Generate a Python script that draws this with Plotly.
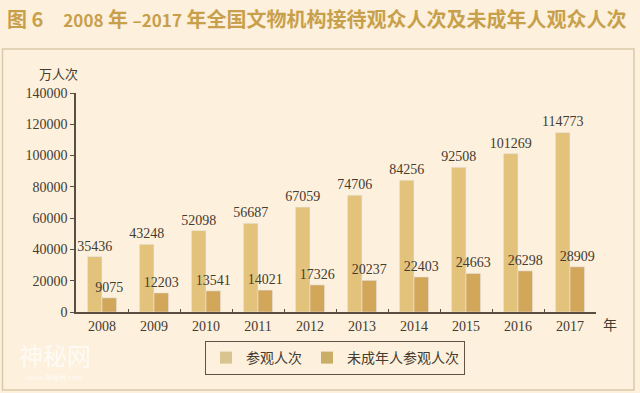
import plotly.graph_objects as go

years = ["2008", "2009", "2010", "2011", "2012", "2013", "2014", "2015", "2016", "2017"]
visitors = [35436, 43248, 52098, 56687, 67059, 74706, 84256, 92508, 101269, 114773]
minors = [9075, 12203, 13541, 14021, 17326, 20237, 22403, 24663, 26298, 28909]
y_ticks = [0, 20000, 40000, 60000, 80000, 100000, 120000, 140000]

BG = "#fdf0dc"
LIGHT = "#e3c37c"
DARK = "#d3a75a"
TXT = "#443b31"
SERIF = "Liberation Serif, DejaVu Serif, serif"
CJK = "Noto Sans CJK SC, sans-serif"

fig = go.Figure()
fig.add_trace(go.Bar(
    x=years, y=visitors, name="参观人次", marker_color=LIGHT, showlegend=False,
    text=[str(v) for v in visitors], textposition="outside", constraintext="none",
    textfont=dict(family=SERIF, size=14, color=TXT), cliponaxis=False,
))
fig.add_trace(go.Bar(
    x=years, y=minors, name="未成年人参观人次", marker_color=DARK, showlegend=False,
    text=[str(v) for v in minors], textposition="outside", constraintext="none",
    textfont=dict(family=SERIF, size=14, color=TXT), cliponaxis=False,
))
# legend entries with small square markers
fig.add_trace(go.Scatter(x=[None], y=[None], mode="markers", name="参观人次",
                         marker=dict(symbol="square", size=6, color="#d8c48e")))
fig.add_trace(go.Scatter(x=[None], y=[None], mode="markers", name="未成年人参观人次",
                         marker=dict(symbol="square", size=6, color="#c9ae68")))

# plot area: x 76..596, y 93..312
L, R, T, B = 76, 596, 93, 312
W, H = R - L, B - T

def px(x):
    return (x - L) / W

def py(y):
    return (B - y) / H

num = '<span style="font-size:17px">{}</span>'
title_text = ("<b>图 6　" + num.format("2008") + " 年 " + num.format("–2017")
              + " 年全国文物机构接待观众人次及未成年人观众人次</b>")

fig.update_layout(
    width=640, height=393,
    margin=dict(l=L, r=640 - R, t=T, b=393 - B, autoexpand=False),
    paper_bgcolor=BG, plot_bgcolor=BG,
    barmode="group", bargap=0.44, bargroupgap=0,
    showlegend=True,
    legend=dict(
        orientation="h", x=px(335), xanchor="center", y=py(358), yanchor="middle",
        bordercolor="#5e5444", borderwidth=1, bgcolor=BG,
        font=dict(family=CJK, size=14, color=TXT),
        itemwidth=30, traceorder="normal", itemsizing="constant",
    ),
    title=dict(
        text=title_text,
        x=7 / 640, xanchor="left", y=1 - 20 / 393, yanchor="middle",
        font=dict(family=CJK, size=20, color="#c8a04c"),
    ),
    xaxis=dict(
        type="category", range=[-0.5, 9.5],
        showline=True, linecolor="#5a4e40", linewidth=1.5,
        ticks="inside", ticklen=3, tickcolor="#5a4e40", tickson="boundaries",
        tickfont=dict(family=SERIF, size=14, color=TXT),
        showgrid=False, zeroline=False,
    ),
    yaxis=dict(
        range=[0, 140000], tickvals=y_ticks, ticktext=[str(v) for v in y_ticks],
        showline=True, linecolor="#5a4e40", linewidth=1.5,
        ticks="outside", ticklen=4, tickcolor="#5a4e40",
        tickfont=dict(family=SERIF, size=14, color=TXT),
        showgrid=False, zeroline=False,
    ),
    shapes=[dict(
        type="rect", xref="paper", yref="paper",
        x0=px(2.5), x1=px(634), y0=py(390), y1=py(49),
        line=dict(color="#d9c9ab", width=1.5), fillcolor="rgba(0,0,0,0)", layer="below",
    )],
    annotations=[
        dict(text="万人次", xref="paper", yref="paper", x=px(58), y=py(73),
             xanchor="center", yanchor="middle", showarrow=False,
             font=dict(family=CJK, size=13, color=TXT)),
        dict(text="年", xref="paper", yref="paper", x=px(610), y=py(324),
             xanchor="center", yanchor="middle", showarrow=False,
             font=dict(family=CJK, size=14, color=TXT)),
        dict(text="神秘网", xref="paper", yref="paper", x=px(55), y=py(354),
             xanchor="center", yanchor="middle", showarrow=False,
             font=dict(family=CJK, size=24, color="rgba(255,255,255,0.75)")),
        dict(text="www.神秘网.com", xref="paper", yref="paper", x=px(55), y=py(377),
             xanchor="center", yanchor="middle", showarrow=False,
             font=dict(family=CJK, size=7, color="rgba(255,255,255,0.75)")),
    ],
)

fig.write_html(
    "out.html",
    config={"displayModeBar": False},
    post_script="document.body.style.margin='0';document.body.style.background='#fdf0dc';",
)
